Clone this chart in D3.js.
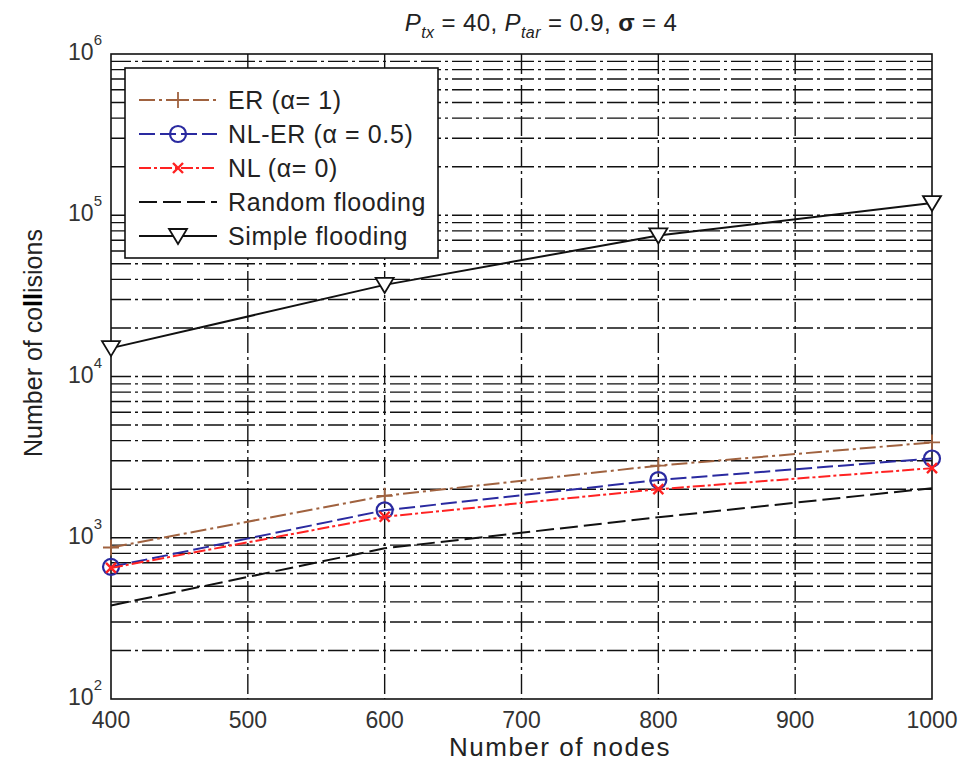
<!DOCTYPE html>
<meta charset="utf-8">
<style>
body { margin: 0; background: #fff; }
text { font-family: "Liberation Sans", Arial, sans-serif; }
.grid line { stroke: #111; stroke-width: 1.4px; stroke-dasharray: 20,4,3,4; }
.tick-label { font-size: 23px; fill: #333; }
</style>
<svg width="962" height="764"></svg>
<script src="https://d3js.org/d3.v7.min.js"></script>
<script>
// data
var nodes = [400, 600, 800, 1000];
var er = [870, 1820, 2800, 3900];
var nler = [660, 1480, 2280, 3100];
var nl = [650, 1350, 2000, 2700];
var randomFlood = [380, 860, 1340, 2030];
var simpleFlood = [15000, 37000, 75000, 119000];

var xTicks = [400, 500, 600, 700, 800, 900, 1000];
var yDecades = [2, 3, 4, 5, 6];

var svg = d3.select("svg"),
    margin = {top: 54, right: 30, bottom: 65, left: 111},
    width = 962 - margin.left - margin.right,
    height = 764 - margin.top - margin.bottom,
    g = svg.append("g").attr("transform", "translate(" + margin.left + "," + margin.top + ")");

var x = d3.scaleLinear().domain([400, 1000]).range([0, width]);
var y = d3.scaleLog().domain([100, 1e6]).range([height, 0]);

// grid
var minor = [];
for (var e = 2; e < 6; e++) {
  for (var m = 1; m < 10; m++) {
    if (e == 2 && m == 1) continue;
    minor.push(m * Math.pow(10, e));
  }
}
var grid = g.append("g").attr("class", "grid");
grid.selectAll(".h").data(minor).enter().append("line")
    .attr("x1", 0).attr("x2", width)
    .attr("y1", function(d) { return y(d); })
    .attr("y2", function(d) { return y(d); });
grid.selectAll(".v").data(xTicks.slice(1, -1)).enter().append("line")
    .attr("y1", 0).attr("y2", height)
    .attr("x1", function(d) { return x(d); })
    .attr("x2", function(d) { return x(d); });

// frame
g.append("rect").attr("width", width).attr("height", height)
    .attr("fill", "none").attr("stroke", "#111").attr("stroke-width", 1.6);

// tick labels
g.selectAll(".xt").data(xTicks).enter().append("text")
    .attr("class", "tick-label")
    .attr("x", function(d) { return x(d); })
    .attr("y", height + 29)
    .attr("text-anchor", "middle")
    .text(function(d) { return d; });

var yt = g.selectAll(".yt").data(yDecades).enter().append("text")
    .attr("class", "tick-label")
    .attr("x", -9)
    .attr("y", function(d) { return y(Math.pow(10, d)) + 6; })
    .attr("text-anchor", "end");
yt.append("tspan").text("10");
yt.append("tspan").attr("dy", -15).attr("font-size", 15).text(function(d) { return d; });

// axis labels
svg.append("text")
    .attr("x", 560)
    .attr("y", 756)
    .attr("text-anchor", "middle")
    .attr("font-size", 26).attr("letter-spacing", 1.5).attr("fill", "#222")
    .text("Number of nodes");

var yl = svg.append("text")
    .attr("transform", "translate(42,343) rotate(-90)")
    .attr("text-anchor", "middle")
    .attr("font-size", 25).attr("fill", "#222");
yl.append("tspan").text("Number of co");
yl.append("tspan").attr("font-weight", "bold").attr("fill", "#000").text("ll");
yl.append("tspan").text("isions");

// title
var title = svg.append("text")
    .attr("x", 541).attr("y", 31)
    .attr("text-anchor", "middle")
    .attr("font-size", 24).attr("letter-spacing", 0.4).attr("fill", "#222");
title.append("tspan").attr("font-style", "italic").text("P");
title.append("tspan").attr("font-style", "italic").attr("font-size", 16).attr("dy", 7).text("tx");
title.append("tspan").attr("dy", -7).text(" = 40, ");
title.append("tspan").attr("font-style", "italic").text("P");
title.append("tspan").attr("font-style", "italic").attr("font-size", 16).attr("dy", 7).text("tar");
title.append("tspan").attr("dy", -7).text(" = 0.9, ");
title.append("tspan").attr("font-weight", "bold").text("σ");
title.append("tspan").text(" = 4");

// series
var series = [
  {name: "ER", values: er, color: "#a0623f", dash: "16,4,3,4", marker: "plus"},
  {name: "NL-ER", values: nler, color: "#2a2aa0", dash: "16,5", marker: "circle"},
  {name: "NL", values: nl, color: "#ff2222", dash: "12,3,3,3", marker: "cross"},
  {name: "Random", values: randomFlood, color: "#111", dash: "18,6", marker: "none"},
  {name: "Simple", values: simpleFlood, color: "#111", dash: null, marker: "tri"}
];

var line = d3.line()
    .x(function(d, i) { return x(nodes[i]); })
    .y(function(d) { return y(d); });

function drawMarker(sel, type, color) {
  if (type == "plus") {
    sel.append("path").attr("d", "M-8,0H8M0,-8V8")
        .attr("stroke", color).attr("stroke-width", 1.8).attr("fill", "none");
  } else if (type == "circle") {
    sel.append("circle").attr("r", 8)
        .attr("stroke", color).attr("stroke-width", 2.2).attr("fill", "none");
  } else if (type == "cross") {
    sel.append("path").attr("d", "M-5,-5L5,5M-5,5L5,-5")
        .attr("stroke", color).attr("stroke-width", 2.4).attr("fill", "none");
  } else if (type == "tri") {
    sel.append("path").attr("d", "M-9,-7L9,-7L0,8Z")
        .attr("stroke", color).attr("stroke-width", 1.8).attr("fill", "#fff");
  }
}

series.forEach(function(s) {
  g.append("path")
      .datum(s.values)
      .attr("d", line)
      .attr("fill", "none")
      .attr("stroke", s.color)
      .attr("stroke-width", 2)
      .attr("stroke-dasharray", s.dash);
  s.values.forEach(function(v, i) {
    var m = g.append("g").attr("transform", "translate(" + x(nodes[i]) + "," + y(v) + ")");
    drawMarker(m, s.marker, s.color);
  });
});

// legend
var labels = ["ER (\u03b1= 1)", "NL-ER (\u03b1 = 0.5)", "NL  (\u03b1= 0)", "Random flooding", "Simple flooding"];
var legend = svg.append("g").attr("transform", "translate(125,68)");
legend.append("rect").attr("width", 313).attr("height", 190)
    .attr("fill", "#fff").attr("stroke", "#111").attr("stroke-width", 1.6);
var rows = legend.selectAll(".row").data(series).enter().append("g")
    .attr("transform", function(d, i) { return "translate(0," + (32 + i * 34) + ")"; });
rows.append("line")
    .attr("x1", 14).attr("x2", 92)
    .attr("stroke", function(d) { return d.color; })
    .attr("stroke-width", 2)
    .attr("stroke-dasharray", function(d) { return d.dash; });
rows.each(function(d) {
  var m = d3.select(this).append("g").attr("transform", "translate(53,0)");
  drawMarker(m, d.marker, d.color);
});
rows.append("text")
    .attr("x", 103).attr("y", 9)
    .attr("font-size", 25).attr("letter-spacing", 0.6).attr("fill", "#222")
    .text(function(d, i) { return labels[i]; });
</script>
